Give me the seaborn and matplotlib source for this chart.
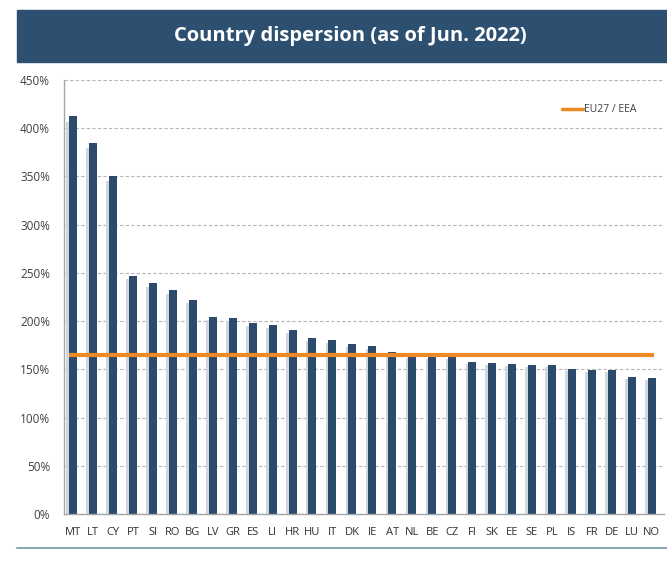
import matplotlib
matplotlib.use("Agg")
import matplotlib.pyplot as plt
import seaborn as sns
import pandas as pd
import numpy as np
from matplotlib.ticker import FuncFormatter, FixedLocator
from matplotlib.lines import Line2D
from matplotlib.patches import Rectangle

countries = ["MT", "LT", "CY", "PT", "SI", "RO", "BG", "LV", "GR", "ES",
             "LI", "HR", "HU", "IT", "DK", "IE", "AT", "NL", "BE", "CZ",
             "FI", "SK", "EE", "SE", "PL", "IS", "FR", "DE", "LU", "NO"]
values = [413, 385, 350, 247, 239, 232, 222, 204, 203, 198,
          196, 191, 182, 180, 176, 174, 168, 164, 163, 163,
          158, 157, 156, 155, 155, 150, 149, 149, 142, 141]
eu_avg = 165
title = "Country dispersion (as of Jun. 2022)"
legend_label = "EU27 / EEA"

sns.set_theme(style="white")
plt.rcParams['font.family'] = ['Open Sans', 'DejaVu Sans']

df = pd.DataFrame({"country": countries, "value": values})

fig = plt.figure(figsize=(6.67, 5.63), dpi=100)
ax = fig.add_axes([0.096, 0.087, 0.899, 0.771])

# shadow bars (3D look)
xs = np.arange(len(countries))
ax.bar(xs - 0.2, np.array(values) * 0.985, width=0.26, color="#cfd7df",
       zorder=1, linewidth=0)
sns.barplot(data=df, x="country", y="value", ax=ax, color="#2c4b6c",
            width=0.4, saturation=1, zorder=2, linewidth=0)

ax.plot([-0.2, len(countries) - 1 + 0.1], [eu_avg, eu_avg], color="#ee8a26",
        lw=3, zorder=3, solid_capstyle="butt")

ax.set_xlim(-0.45, len(countries) - 0.4)
ax.set_ylim(0, 450)
ax.set_yticks(np.arange(0, 451, 50))
ax.yaxis.set_major_formatter(FuncFormatter(lambda v, p: f"{int(v)}%"))
ax.grid(axis="y", color="#b5b5b5", linestyle=(0, (3, 2)), lw=0.8, zorder=0)
ax.set_axisbelow(True)
ax.set_xlabel("")
ax.set_ylabel("")
for s in ["top", "right"]:
    ax.spines[s].set_visible(False)
for s in ["left", "bottom"]:
    ax.spines[s].set_color("#a6a6a6")
    ax.spines[s].set_linewidth(1.0)
ax.tick_params(axis="y", labelsize=8.5, colors="#404040", length=0, pad=10)
ax.tick_params(axis="x", labelsize=8, colors="#303030", length=0, pad=9)
ax.xaxis.set_minor_locator(FixedLocator(np.arange(-0.5, len(countries), 1)))
ax.tick_params(axis="x", which="minor", length=3, color="#a6a6a6", width=0.8,
               direction="out")

leg = ax.legend(handles=[Line2D([0], [0], color="#ee8a26", lw=2.5)],
                labels=[legend_label], loc="center right",
                bbox_to_anchor=(0.955, 0.931), frameon=False,
                borderpad=0, borderaxespad=0,
                fontsize=7.5, handlelength=2.0, handletextpad=0.1)
for t in leg.get_texts():
    t.set_color("#404040")

# title banner
fig.patches.append(Rectangle((0.025, 0.890), 0.975, 0.092,
                             transform=fig.transFigure, color="#2d5071",
                             zorder=0))
fig.text(0.525, 0.936, title, color="white", fontsize=14.5, fontweight="bold",
         ha="center", va="center", family=["Open Sans", "DejaVu Sans"])

# bottom rule
fig.lines.append(Line2D([0.025, 1.0], [0.027, 0.027], transform=fig.transFigure,
                        color="#8ea7b7", lw=1.5))

fig.savefig("out.png", dpi=100, facecolor="white")
